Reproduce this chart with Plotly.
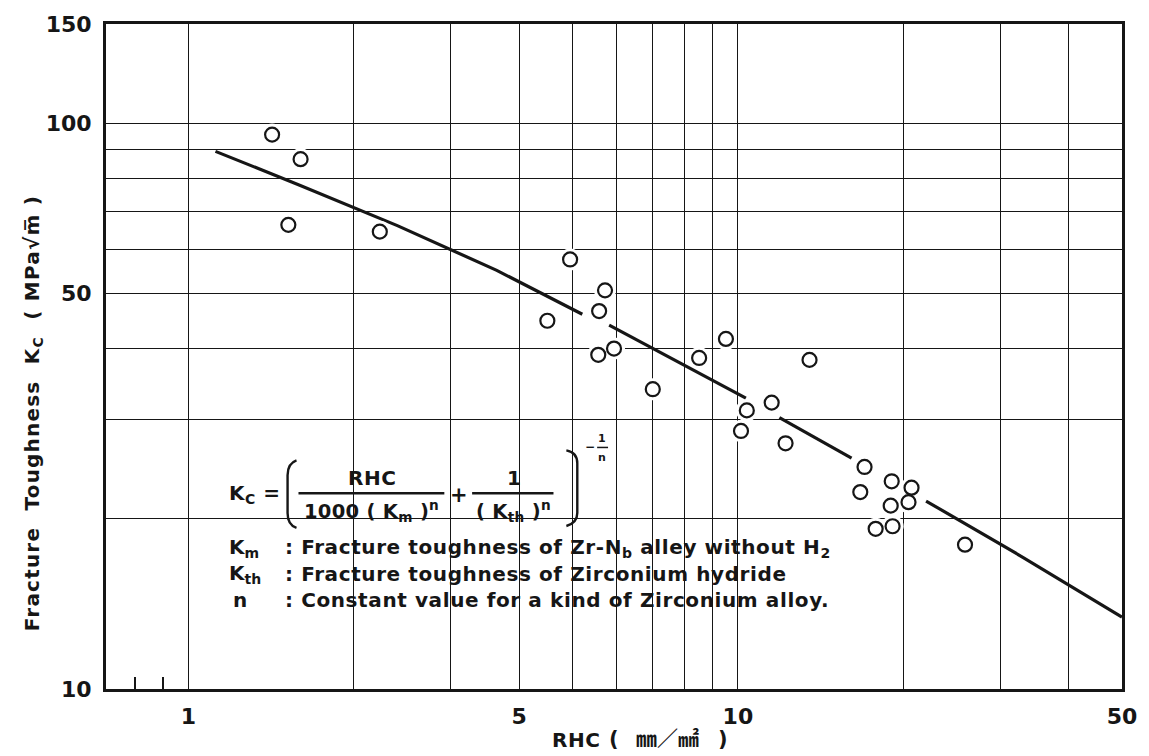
import plotly.graph_objects as go

# ---------------- data ----------------
rhc_points = [1.42, 1.60, 1.52, 2.23, 4.95, 5.73, 5.59, 4.50, 5.95, 5.57, 7.00, 8.50,
              9.51, 13.5, 10.38, 11.52, 10.13, 12.21, 17.0, 16.7, 19.05, 20.7, 18.97,
              20.44, 17.81, 19.12, 25.9]
kc_points = [95.6, 86.5, 66.2, 64.4, 57.5, 50.7, 46.6, 44.8, 40.0, 39.0, 33.9, 38.5,
             41.6, 38.2, 31.1, 32.1, 28.6, 27.2, 24.7, 22.3, 23.3, 22.7, 21.1,
             21.4, 19.2, 19.4, 18.0]

# fitted curve, drawn in broken pieces as in the picture (None = break)
curve_rhc = [1.12, 1.59, 2.40, 3.64, 5.21, None, 5.83, 10.34, None, 11.9, 16.1, None,
             22.0, 33.0, 50.0]
curve_kc = [89.3, 77.9, 66.0, 55.0, 46.0, None, 44.0, 32.7, None, 30.2, 25.6, None,
            21.5, 17.1, 13.4]

x_grid_vals = [1, 2, 3, 4, 5, 6, 7, 8, 9, 10, 20, 30, 40, 50]
x_grid_text = ["1", "", "", "5", "", "", "", "", "", "10", "", "", "", "50"]
x_minor_vals = [0.8, 0.9]
y_grid_vals = [10, 20, 30, 40, 50, 60, 70, 80, 90, 100, 150]
y_grid_text = ["10", "", "", "", "50", "", "", "", "", "100", "150"]

# ---------------- layout helpers (pixel -> paper) ----------------
L, R, T, B = 106, 1130, 20, 689
W, H = 1149, 756


def PX(x):
    return (x - L) / (R - L)


def PY(y):
    return (B - y) / (B - T)


FONT = "DejaVu Sans"
CJK = "Noto Sans CJK JP"
INK = "#161616"

fig = go.Figure()

# fitted curve
fig.add_trace(go.Scatter(x=curve_rhc, y=curve_kc, mode="lines",
                         line=dict(color=INK, width=3.2), connectgaps=False,
                         hoverinfo="skip", showlegend=False))
# white halos break the grid around the points
fig.add_trace(go.Scatter(x=rhc_points, y=kc_points, mode="markers",
                         marker=dict(symbol="circle", size=22, color="white",
                                     line=dict(width=0)),
                         hoverinfo="skip", showlegend=False))
# open circles
fig.add_trace(go.Scatter(x=rhc_points, y=kc_points, mode="markers",
                         marker=dict(symbol="circle", size=14, color="white",
                                     line=dict(width=2.2, color=INK)),
                         showlegend=False))

shapes = []
# white areas where the printed grid is interrupted (formula block)
for (x0, y0, x1, y1) in [(205, 428, 598, 657), (598, 510, 845, 628)]:
    shapes.append(dict(type="rect", xref="paper", yref="paper",
                       x0=PX(x0), x1=PX(x1), y0=PY(y1), y1=PY(y0),
                       fillcolor="white", line=dict(width=0), layer="between"))

# fraction bars
for (x0, x1) in [(300, 447), (475, 557)]:
    shapes.append(dict(type="line", xref="paper", yref="paper",
                       x0=PX(x0), x1=PX(x1), y0=PY(492), y1=PY(492),
                       line=dict(color=INK, width=2.4)))
shapes.append(dict(type="line", xref="paper", yref="paper",
                   x0=PX(601), x1=PX(612), y0=PY(446), y1=PY(446),
                   line=dict(color=INK, width=1.5)))


def pth(pts):
    cmd = []
    for c, *xy in pts:
        coords = " ".join(f"{PX(xy[i]):.5f},{PY(xy[i + 1]):.5f}" for i in range(0, len(xy), 2))
        cmd.append(f"{c} {coords}")
    return " ".join(cmd)


# big brackets
shapes.append(dict(type="path", xref="paper", yref="paper",
                   path=pth([("M", 298, 459), ("Q", 289, 462, 289, 474), ("L", 289, 512),
                             ("Q", 289, 524, 298, 527)]),
                   line=dict(color=INK, width=2.4)))
shapes.append(dict(type="path", xref="paper", yref="paper",
                   path=pth([("M", 570, 449), ("Q", 581, 451, 581, 462), ("L", 581, 512),
                             ("Q", 581, 522, 570, 525)]),
                   line=dict(color=INK, width=2.4)))

ann = []


def txt(x, y, s, size=19, xanchor="center", angle=0, family=FONT, ls=None, weight="bold"):
    if ls is not None:
        s = f"<span style='letter-spacing:{ls}px'>{s}</span>"
    ann.append(dict(x=PX(x), y=PY(y), xref="paper", yref="paper", text=s,
                    showarrow=False, xanchor=xanchor, yanchor="middle", textangle=angle,
                    font=dict(family=family, size=size, color=INK, weight=weight)))


# formula
txt(228, 493, "K<sub>C</sub> =", 20, "left", ls=0.5)
txt(374, 477, "RHC", 20, ls=0.5)
txt(374, 510, "1000 ( K<sub>m</sub> )<sup>n</sup>", 19.5, ls=0.3)
txt(462, 494, "+", 21)
txt(517, 477, "1", 20)
txt(517, 510, "( K<sub>th</sub> )<sup>n</sup>", 19.5, ls=0.3)
txt(594, 446, "−", 12)
txt(606, 437, "1", 11)
txt(606, 456, "n", 11)
# definitions
txt(228, 547, "K<sub>m</sub>", 20, "left")
txt(228, 573, "K<sub>th</sub>", 20, "left")
txt(232, 599, "n", 20, "left")
txt(284, 547, ": Fracture toughness of Zr-N<sub>b</sub> alley without H<sub>2</sub>", 20, "left", ls=0.6)
txt(284, 573, ": Fracture toughness of Zirconium hydride", 20, "left", ls=0.6)
txt(284, 599, ": Constant value for a kind of Zirconium alloy.", 20, "left", ls=0.6)

# axis titles
txt(32, 412, "Fracture  Toughness  K<sub>C</sub>  ( MPa√m\u0305 )", 20, "center", -90, ls=1.2)
txt(553, 740, "RHC", 20, "left", ls=0.5)
txt(618, 739, "(", 21)
txt(672, 737, "㎜／㎟", 21, family=CJK)
txt(728, 739, ")", 21)

fig.update_layout(
    width=W, height=H,
    margin=dict(l=L, r=W - R, t=T, b=H - B),
    paper_bgcolor="white", plot_bgcolor="white",
    showlegend=False, shapes=shapes, annotations=ann,
    font=dict(family=FONT, color=INK),
)
fig.update_xaxes(type="log", range=[-0.15, 1.699], tickmode="array",
                 tickvals=x_grid_vals, ticktext=x_grid_text,
                 showgrid=True, gridcolor=INK, gridwidth=1.4,
                 showline=True, linecolor=INK, linewidth=3, mirror=True,
                 ticks="", ticklabelstandoff=6,
                 tickfont=dict(family=FONT, size=22, color=INK, weight="bold"),
                 minor=dict(tickvals=x_minor_vals, ticks="inside", ticklen=12,
                            tickwidth=2, tickcolor=INK, showgrid=False),
                 zeroline=False)
fig.update_yaxes(type="log", range=[1, 2.1761], tickmode="array",
                 tickvals=y_grid_vals, ticktext=y_grid_text,
                 showgrid=True, gridcolor=INK, gridwidth=1.4,
                 showline=True, linecolor=INK, linewidth=3, mirror=True,
                 ticks="", ticklabelstandoff=7,
                 tickfont=dict(family=FONT, size=22, color=INK, weight="bold"),
                 zeroline=False)

fig.write_html("out.html")
